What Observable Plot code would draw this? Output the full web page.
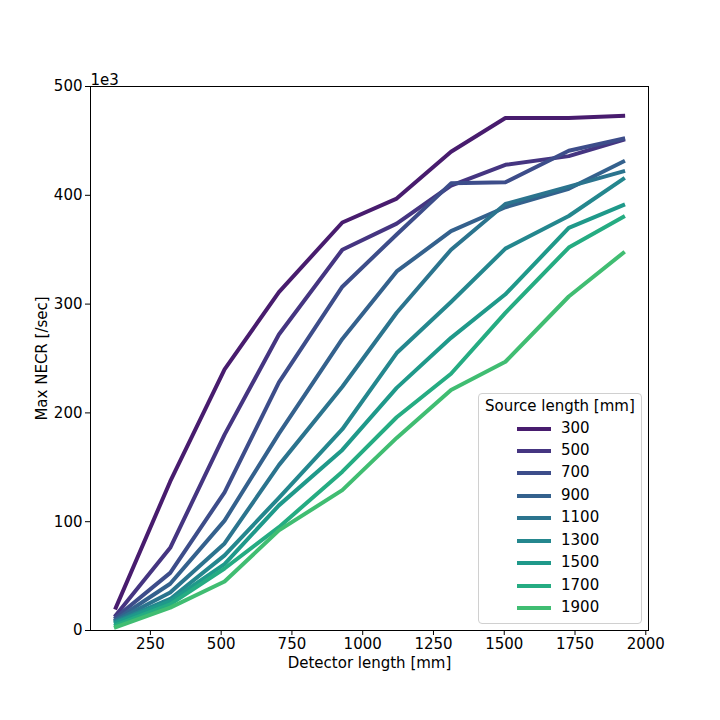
<!DOCTYPE html>
<html>
<head>
<meta charset="utf-8">
<script src="https://cdn.jsdelivr.net/npm/d3@7"></script>
<script src="https://cdn.jsdelivr.net/npm/@observablehq/plot@0.6"></script>
<style>
  body { margin: 0; background: white; font-family: "DejaVu Sans", sans-serif; }
  #wrap { position: relative; width: 720px; height: 720px; }
  #legend { position: absolute; box-sizing: border-box; border: 1px solid #d0d0d0; border-radius: 4px; background: rgba(255,255,255,0.85); font-family: "DejaVu Sans", sans-serif; font-size: 15px; color: #000; }
  #legend .t { position: absolute; white-space: nowrap; line-height: 1; }
  #legend .sw { position: absolute; height: 4px; }
</style>
</head>
<body>
<div id="wrap"></div>
<script>
// ---- data (values in units of 1e3 /sec) ----
const detectorLength = [128, 320, 512, 704, 928, 1120, 1312, 1504, 1728, 1920];
const sourceLengths = [300, 500, 700, 900, 1100, 1300, 1500, 1700, 1900];
const necr300  = [21, 137, 240, 311, 375, 397, 440, 471, 471, 473];
const necr500  = [14, 76, 180, 272, 350, 374, 409, 428, 436, 451];
const necr700  = [12, 53, 127, 228, 316, 364, 411, 412, 441, 452];
const necr900  = [10, 43, 101, 181, 268, 330, 367, 389, 406, 431];
const necr1100 = [9, 35, 80, 152, 224, 292, 350, 392, 408, 422];
const necr1300 = [8, 29, 69, 122, 185, 255, 302, 351, 381, 415];
const necr1500 = [7, 27, 61, 115, 166, 223, 269, 309, 370, 391];
const necr1700 = [5, 24, 57, 95, 146, 196, 236, 292, 352, 380];
const necr1900 = [3, 21, 45, 92, 129, 177, 221, 247, 307, 347];
const xTicks = [250, 500, 750, 1000, 1250, 1500, 1750, 2000];
const yTicks = [0, 100, 200, 300, 400, 500];
const xLabel = "Detector length [mm]";
const yLabel = "Max NECR [/sec]";
const offsetLabel = "1e3";
const legendTitle = "Source length [mm]";

const series = [necr300, necr500, necr700, necr900, necr1100, necr1300, necr1500, necr1700, necr1900];
const rows = [];
series.forEach((vals, i) => {
  vals.forEach((v, j) => rows.push({source: String(sourceLengths[i]), detector: detectorLength[j], necr: v}));
});
const colorRange = sourceLengths.map((d, i) => d3.interpolateViridis((i + 1) / 13));
const xMin = detectorLength[0], xMax = detectorLength[detectorLength.length - 1];
const pad = (xMax - xMin) * 0.05;

const chart = Plot.plot({
  width: 720,
  height: 720,
  marginLeft: 90,
  marginRight: 72,
  marginTop: 86,
  marginBottom: 90,
  style: {fontFamily: "DejaVu Sans", fontSize: "15px", color: "#000", background: "white"},
  x: {domain: [xMin - pad, xMax + pad]},
  y: {domain: [0, 500]},
  color: {type: "ordinal", domain: sourceLengths.map(String), range: colorRange},
  marks: [
    Plot.line(rows, {x: "detector", y: "necr", z: "source", stroke: "source", strokeWidth: 4, strokeLinecap: "square", strokeLinejoin: "round"}),
    Plot.frame({stroke: "#000", strokeWidth: 1}),
    Plot.axisX({ticks: xTicks, tickFormat: d => String(d), tickSize: 5, tickPadding: 3, label: null, fontSize: 15}),
    Plot.axisY({ticks: yTicks, tickFormat: d => String(d), tickSize: 5, tickPadding: 3, label: null, fontSize: 15}),
    Plot.text([xLabel], {text: d => d, frameAnchor: "bottom", dy: 33, fontSize: 15, lineAnchor: "middle"}),
    Plot.text([yLabel], {text: d => d, frameAnchor: "left", dx: -48, rotate: -90, textAnchor: "middle", fontSize: 15, lineAnchor: "middle"}),
    Plot.text([offsetLabel], {text: d => d, frameAnchor: "top-left", textAnchor: "start", lineAnchor: "bottom", dy: -2, fontSize: 15})
  ]
});
const wrap = document.getElementById("wrap");
wrap.appendChild(chart);

// legend (lower right, inside the axes)
const lg = document.createElement("div");
lg.id = "legend";
lg.style.left = "478px"; lg.style.top = "393px"; lg.style.width = "164px"; lg.style.height = "231px";
const title = document.createElement("div");
title.className = "t";
title.textContent = legendTitle;
title.style.left = "6px"; title.style.top = "5px";
lg.appendChild(title);
sourceLengths.forEach((s, i) => {
  const cy = 34.5 + i * 22.45;
  const sw = document.createElement("div");
  sw.className = "sw";
  sw.style.left = "38px"; sw.style.width = "34px"; sw.style.top = (cy - 2) + "px";
  sw.style.background = colorRange[i];
  lg.appendChild(sw);
  const t = document.createElement("div");
  t.className = "t";
  t.textContent = String(s);
  t.style.left = "82px"; t.style.top = (cy - 8) + "px";
  lg.appendChild(t);
});
wrap.appendChild(lg);
</script>
</body>
</html>
